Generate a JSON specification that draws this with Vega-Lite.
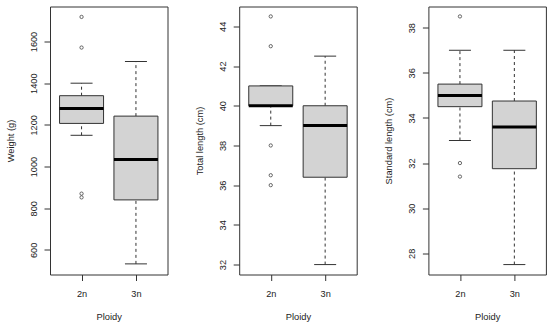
{
  "$schema": "https://vega.github.io/schema/vega-lite/v6.json",
  "padding": {"left": 5, "top": 5.5, "right": 0, "bottom": 0},
  "background": "white",
  "datasets": {
    "summary": [
      {"panel": "w", "ploidy": "2n", "lower": 1150, "q1": 1207, "median": 1278, "q3": 1340, "upper": 1400},
      {"panel": "w", "ploidy": "3n", "lower": 533, "q1": 840, "median": 1034, "q3": 1242, "upper": 1504},
      {"panel": "t", "ploidy": "2n", "lower": 39, "q1": 40, "median": 40, "q3": 41, "upper": 41},
      {"panel": "t", "ploidy": "3n", "lower": 32, "q1": 36.4, "median": 39, "q3": 40, "upper": 42.5},
      {"panel": "s", "ploidy": "2n", "lower": 33, "q1": 34.5, "median": 35, "q3": 35.5, "upper": 37},
      {"panel": "s", "ploidy": "3n", "lower": 27.5, "q1": 31.75, "median": 33.6, "q3": 34.75, "upper": 37}
    ],
    "outliers": [
      {"panel": "w", "ploidy": "2n", "value": 1718},
      {"panel": "w", "ploidy": "2n", "value": 1571},
      {"panel": "w", "ploidy": "2n", "value": 870},
      {"panel": "w", "ploidy": "2n", "value": 852},
      {"panel": "t", "ploidy": "2n", "value": 44.5},
      {"panel": "t", "ploidy": "2n", "value": 43},
      {"panel": "t", "ploidy": "2n", "value": 38},
      {"panel": "t", "ploidy": "2n", "value": 36.5},
      {"panel": "t", "ploidy": "2n", "value": 36},
      {"panel": "s", "ploidy": "2n", "value": 38.5},
      {"panel": "s", "ploidy": "2n", "value": 32},
      {"panel": "s", "ploidy": "2n", "value": 31.4}
    ]
  },
  "bounds": "flush",
  "spacing": 71.2,
  "hconcat": [
    {
      "width": 117.5, "height": 268,
      "layer": [
        {
          "data": {"name": "summary"},
          "transform": [{"filter": "datum.panel === 'w'"}],
          "encoding": {
            "x": {"field": "ploidy", "type": "nominal", "scale": {"type": "point", "domain": ["2n", "3n"], "padding": 0.58}, "axis": {"title": "Ploidy"}}
          },
          "layer": [
            {"mark": {"type": "rule", "strokeDash": [3, 3], "color": "#333", "strokeWidth": 1},
             "encoding": {"y": {"field": "lower", "type": "quantitative", "scale": {"domain": [482, 1768], "nice": false, "zero": false}, "axis": {"title": "Weight (g)", "format": "d", "values": [600, 800, 1000, 1200, 1400, 1600]}}, "y2": {"field": "q1"}}},
            {"mark": {"type": "rule", "strokeDash": [3, 3], "color": "#333", "strokeWidth": 1},
             "encoding": {"y": {"field": "q3", "type": "quantitative"}, "y2": {"field": "upper"}}},
            {"mark": {"type": "tick", "size": 22, "thickness": 1, "color": "#333", "opacity": 1},
             "encoding": {"y": {"field": "lower", "type": "quantitative"}}},
            {"mark": {"type": "tick", "size": 22, "thickness": 1, "color": "#333", "opacity": 1},
             "encoding": {"y": {"field": "upper", "type": "quantitative"}}},
            {"mark": {"type": "bar", "size": 44, "fill": "#d3d3d3", "stroke": "#333", "strokeWidth": 1},
             "encoding": {"y": {"field": "q1", "type": "quantitative"}, "y2": {"field": "q3"}}},
            {"mark": {"type": "tick", "size": 44, "thickness": 3, "color": "#000", "opacity": 1},
             "encoding": {"y": {"field": "median", "type": "quantitative"}}}
          ]
        },
        {
          "data": {"name": "outliers"},
          "transform": [{"filter": "datum.panel === 'w'"}],
          "mark": {"type": "point", "shape": "circle", "filled": false, "size": 11, "stroke": "#444", "strokeWidth": 0.8, "opacity": 1},
          "encoding": {
            "x": {"field": "ploidy", "type": "nominal", "scale": {"type": "point", "domain": ["2n", "3n"], "padding": 0.58}},
            "y": {"field": "value", "type": "quantitative"}
          }
        }
      ]
    },
    {
      "width": 117.5, "height": 268,
      "layer": [
        {
          "data": {"name": "summary"},
          "transform": [{"filter": "datum.panel === 't'"}],
          "encoding": {
            "x": {"field": "ploidy", "type": "nominal", "scale": {"type": "point", "domain": ["2n", "3n"], "padding": 0.58}, "axis": {"title": "Ploidy"}}
          },
          "layer": [
            {"mark": {"type": "rule", "strokeDash": [3, 3], "color": "#333", "strokeWidth": 1},
             "encoding": {"y": {"field": "lower", "type": "quantitative", "scale": {"domain": [31.5, 45], "nice": false, "zero": false}, "axis": {"title": "Total length (cm)", "format": "d", "values": [32, 34, 36, 38, 40, 42, 44]}}, "y2": {"field": "q1"}}},
            {"mark": {"type": "rule", "strokeDash": [3, 3], "color": "#333", "strokeWidth": 1},
             "encoding": {"y": {"field": "q3", "type": "quantitative"}, "y2": {"field": "upper"}}},
            {"mark": {"type": "tick", "size": 22, "thickness": 1, "color": "#333", "opacity": 1},
             "encoding": {"y": {"field": "lower", "type": "quantitative"}}},
            {"mark": {"type": "tick", "size": 22, "thickness": 1, "color": "#333", "opacity": 1},
             "encoding": {"y": {"field": "upper", "type": "quantitative"}}},
            {"mark": {"type": "bar", "size": 44, "fill": "#d3d3d3", "stroke": "#333", "strokeWidth": 1},
             "encoding": {"y": {"field": "q1", "type": "quantitative"}, "y2": {"field": "q3"}}},
            {"mark": {"type": "tick", "size": 44, "thickness": 3, "color": "#000", "opacity": 1},
             "encoding": {"y": {"field": "median", "type": "quantitative"}}}
          ]
        },
        {
          "data": {"name": "outliers"},
          "transform": [{"filter": "datum.panel === 't'"}],
          "mark": {"type": "point", "shape": "circle", "filled": false, "size": 11, "stroke": "#444", "strokeWidth": 0.8, "opacity": 1},
          "encoding": {
            "x": {"field": "ploidy", "type": "nominal", "scale": {"type": "point", "domain": ["2n", "3n"], "padding": 0.58}},
            "y": {"field": "value", "type": "quantitative"}
          }
        }
      ]
    },
    {
      "width": 117.5, "height": 268,
      "layer": [
        {
          "data": {"name": "summary"},
          "transform": [{"filter": "datum.panel === 's'"}],
          "encoding": {
            "x": {"field": "ploidy", "type": "nominal", "scale": {"type": "point", "domain": ["2n", "3n"], "padding": 0.58}, "axis": {"title": "Ploidy"}}
          },
          "layer": [
            {"mark": {"type": "rule", "strokeDash": [3, 3], "color": "#333", "strokeWidth": 1},
             "encoding": {"y": {"field": "lower", "type": "quantitative", "scale": {"domain": [27.06, 38.94], "nice": false, "zero": false}, "axis": {"title": "Standard length (cm)", "format": "d", "values": [28, 30, 32, 34, 36, 38]}}, "y2": {"field": "q1"}}},
            {"mark": {"type": "rule", "strokeDash": [3, 3], "color": "#333", "strokeWidth": 1},
             "encoding": {"y": {"field": "q3", "type": "quantitative"}, "y2": {"field": "upper"}}},
            {"mark": {"type": "tick", "size": 22, "thickness": 1, "color": "#333", "opacity": 1},
             "encoding": {"y": {"field": "lower", "type": "quantitative"}}},
            {"mark": {"type": "tick", "size": 22, "thickness": 1, "color": "#333", "opacity": 1},
             "encoding": {"y": {"field": "upper", "type": "quantitative"}}},
            {"mark": {"type": "bar", "size": 44, "fill": "#d3d3d3", "stroke": "#333", "strokeWidth": 1},
             "encoding": {"y": {"field": "q1", "type": "quantitative"}, "y2": {"field": "q3"}}},
            {"mark": {"type": "tick", "size": 44, "thickness": 3, "color": "#000", "opacity": 1},
             "encoding": {"y": {"field": "median", "type": "quantitative"}}}
          ]
        },
        {
          "data": {"name": "outliers"},
          "transform": [{"filter": "datum.panel === 's'"}],
          "mark": {"type": "point", "shape": "circle", "filled": false, "size": 11, "stroke": "#444", "strokeWidth": 0.8, "opacity": 1},
          "encoding": {
            "x": {"field": "ploidy", "type": "nominal", "scale": {"type": "point", "domain": ["2n", "3n"], "padding": 0.58}},
            "y": {"field": "value", "type": "quantitative"}
          }
        }
      ]
    }
  ],
  "config": {
    "view": {"stroke": "#333", "strokeWidth": 1},
    "axis": {
      "domain": false, "grid": false, "ticks": true, "tickColor": "#333", "tickSize": 6, "tickWidth": 1,
      "labelFont": "Arial, Liberation Sans", "labelFontSize": 9.2, "labelColor": "#222",
      "titleFont": "Arial, Liberation Sans", "titleFontSize": 9.3, "titleFontWeight": "normal", "titleColor": "#222",
      "labelFlush": false, "labelOverlap": false
    },
    "axisY": {
      "labelAngle": 270, "labelAlign": "center", "labelBaseline": "alphabetic", "labelPadding": 8,
      "minExtent": 25, "maxExtent": 25, "titlePadding": 12, "titleBaseline": "alphabetic"
    },
    "axisX": {
      "labelAngle": 0, "labelAlign": "center", "labelBaseline": "alphabetic", "labelPadding": 15.5,
      "minExtent": 30, "maxExtent": 30, "titlePadding": 14.5, "titleBaseline": "alphabetic"
    }
  }
}
